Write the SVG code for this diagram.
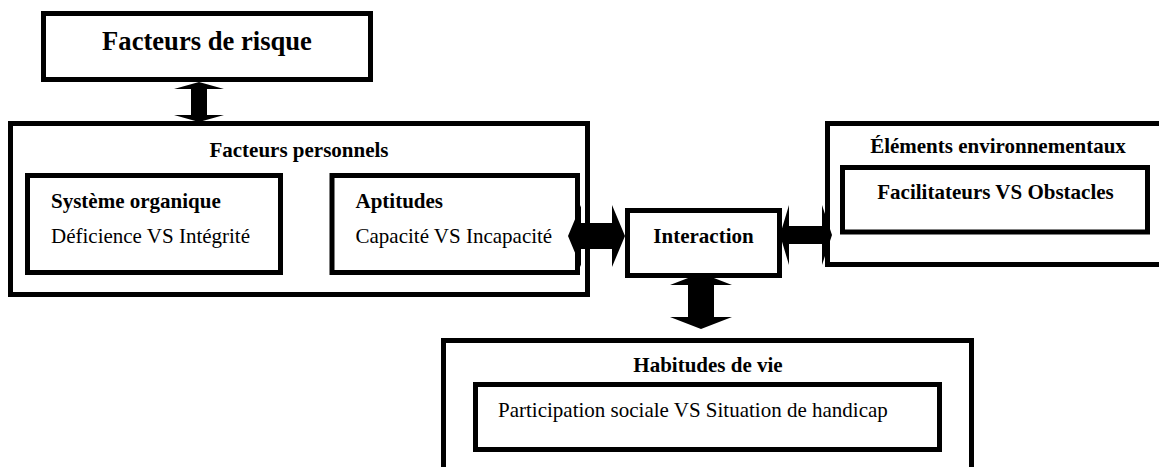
<svg xmlns="http://www.w3.org/2000/svg" width="1159" height="467" viewBox="0 0 1159 467">
<style>
.box{fill:#fff;stroke:#000;stroke-width:5}
.t{font-family:"Liberation Serif","Times New Roman",serif;font-size:21px;fill:#000}
.b{font-weight:bold}
.arr{fill:#000;stroke:none}
</style>
<rect width="1159" height="467" fill="#fff"/>
<g id="risque">
<rect class="box" x="43.5" y="13.5" width="327" height="66"/>
<text class="t b" x="207" y="50" text-anchor="middle" style="font-size:26.6px">Facteurs de risque</text>
</g>
<g id="personnels">
<rect class="box" x="10.5" y="123.5" width="577" height="171"/>
<text class="t b" x="299" y="157" text-anchor="middle">Facteurs personnels</text>
</g>
<g id="systeme">
<rect class="box" x="27.5" y="175.5" width="253" height="97"/>
<text class="t b" x="51" y="208">Système organique</text>
<text class="t" x="51" y="243">Déficience VS Intégrité</text>
</g>
<g id="aptitudes">
<rect class="box" x="332" y="175.5" width="245.5" height="97"/>
<text class="t b" x="355.5" y="208">Aptitudes</text>
<text class="t" x="355.5" y="243">Capacité VS Incapacité</text>
</g>
<g id="interaction">
<rect class="box" x="627.5" y="210.5" width="152" height="65"/>
<text class="t b" x="703.5" y="243" text-anchor="middle">Interaction</text>
</g>
<g id="environnement">
<rect class="box" x="827.5" y="123.5" width="340" height="141"/>
<text class="t b" x="998" y="153" text-anchor="middle">Éléments environnementaux</text>
</g>
<g id="facilitateurs">
<rect class="box" x="842.5" y="167.5" width="305" height="64.5"/>
<text class="t b" x="995.5" y="199" text-anchor="middle">Facilitateurs VS Obstacles</text>
</g>
<g id="habitudes">
<rect class="box" x="443.5" y="340.5" width="528" height="140"/>
<text class="t b" x="708" y="372" text-anchor="middle">Habitudes de vie</text>
</g>
<g id="participation">
<rect class="box" x="475.5" y="384.5" width="464" height="65"/>
<text class="t" x="498" y="417">Participation sociale VS Situation de handicap</text>
</g>
<g id="connectors">
<path class="arr" d="M199,82 L224,89 L207,89 L207,115 L224,115 L199,122 L174,115 L191,115 L191,89 L174,89 Z"/>
<path class="arr" d="M568,236 L581,205 L581,223 L612,223 L612,205 L625,236 L612,267 L612,249 L581,249 L581,267 Z"/>
<path class="arr" d="M780,235 L789,205 L789,226 L822,226 L822,205 L832,235 L822,265 L822,244 L789,244 L789,265 Z"/>
<path class="arr" d="M701,273 L732,285 L714,285 L714,317 L732,317 L701,329 L670,317 L688,317 L688,285 L670,285 Z"/>
</g>
</svg>
